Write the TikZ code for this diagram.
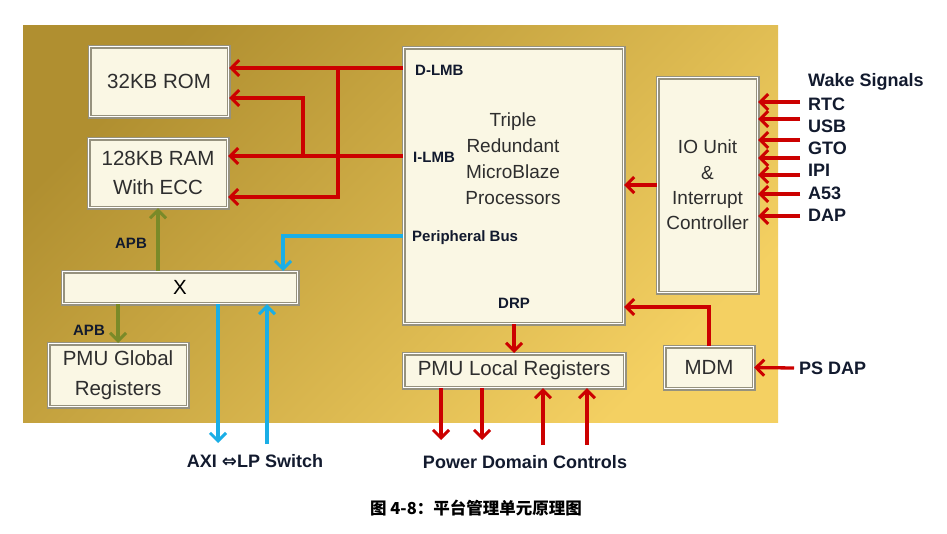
\documentclass[tikz,border=0pt]{standalone}
\usepackage{fontspec}
\setmainfont{Liberation Sans}
\newfontfamily\cjk{Noto Sans CJK SC}
\newfontfamily\dejavu{DejaVu Sans}
\usetikzlibrary{arrows.meta,calc}
\definecolor{goldA}{HTML}{B08F30}
\definecolor{goldB}{HTML}{F4D062}
\definecolor{cream}{HTML}{FAF7E4}
\definecolor{bevel}{HTML}{96927E}
\definecolor{txtgray}{HTML}{2E2E2E}
\definecolor{arrred}{HTML}{CC0000}
\definecolor{arrblue}{HTML}{1AAEE6}
\definecolor{arrgreen}{HTML}{7A8A28}
\definecolor{lblnavy}{HTML}{121A2E}
\tikzset{
  boxst/.style={draw=bevel, line width=1.1pt, double=white, double distance=1.8pt,
    fill=cream, inner sep=0pt, text=txtgray, font=\fontsize{20.5}{29}\selectfont,
    align=center, anchor=north west},
  smalllbl/.style={font=\fontsize{15}{18}\selectfont\bfseries, text=lblnavy, inner sep=0pt},
  biglbl/.style={font=\fontsize{18}{22}\selectfont\bfseries, text=lblnavy, inner sep=0pt},
  tipst/.style={-{Straight Barb[length=8pt,width=16pt,line width=3pt]}},
  redarr/.style={draw=arrred, line width=3.3pt, tipst},
  bluearr/.style={draw=arrblue, line width=3.3pt, tipst},
  greenarr/.style={draw=arrgreen, line width=3.3pt, tipst},
}
\begin{document}
\begin{tikzpicture}[x=1pt,y=-1pt]
\useasboundingbox (0,0) rectangle (947,534);
\fill[white] (0,0) rectangle (947,534);
% gold panel
\shade[top color=goldA, bottom color=goldB, shading angle=45] (23,26) rectangle (778,422);

% boxes
\node[boxst, minimum width=139pt, minimum height=70pt] (rom) at (89,46) {32KB ROM};
\node[boxst, minimum width=139pt, minimum height=69pt] (ram) at (88,138) {128KB RAM\\With ECC};
\node[boxst, minimum width=220pt, minimum height=276pt] (mb) at (403,47) {};
\node[font=\fontsize{19}{26}\selectfont, text=txtgray, align=center, inner sep=0pt] (mbt) at (513,159) {Triple\\Redundant\\MicroBlaze\\Processors};
\node[boxst, minimum width=100pt, minimum height=215pt, font=\fontsize{19}{25.3}\selectfont] (io) at (657,77) {IO Unit\\\&\\Interrupt\\Controller};
\node[boxst, minimum width=235pt, minimum height=32pt, text=black] (xbar) at (62,271) {X};
\node[boxst, minimum width=139pt, minimum height=63pt, font=\fontsize{20.5}{30}\selectfont] (pmug) at (48,343) {PMU Global\\Registers};
\node[boxst, minimum width=221pt, minimum height=34pt] (pmul) at (403,353) {PMU Local Registers};
\node[boxst, minimum width=89pt, minimum height=42pt] (mdm) at (664,346) {MDM};

% small labels
\node[smalllbl, anchor=west] (dlmb) at (415,70) {D-LMB};
\node[smalllbl, anchor=west] (ilmb) at (413,157) {I-LMB};
\node[smalllbl, anchor=west] (pbus) at (412,238) {Peripheral Bus};
\node[smalllbl] (drp) at (514,303) {DRP};
\node[smalllbl] (apb1) at (131,243) {APB};
\node[smalllbl] (apb2) at (89,330) {APB};

% wake signals
\node[biglbl, anchor=west] (wake) at (808,82) {Wake Signals};
\node[biglbl, anchor=west] (rtc) at (808,104) {RTC};
\node[biglbl, anchor=west] (usb) at (808,126) {USB};
\node[biglbl, anchor=west] (gto) at (808,148) {GTO};
\node[biglbl, anchor=west] (ipi) at (808,170) {IPI};
\node[biglbl, anchor=west] (a53) at (808,193) {A53};
\node[biglbl, anchor=west] (dap) at (808,215) {DAP};
\node[biglbl, anchor=west, inner sep=5pt] (psdap) at (794,368) {PS DAP};
\node[biglbl] (axi) at (255,461) {AXI {\dejavu\bfseries ⇔}LP Switch};
\node[biglbl] (pdc) at (525,462) {Power Domain Controls};
\node[font=\fontsize{16.5}{20}\cjk\bfseries, text=black, inner sep=0pt] (cap) at (476,508) {图 4-8：平台管理单元原理图};

% LMB connectors
\coordinate (dl) at (338,68);
\coordinate (dr) at (338,197);
\coordinate (il) at (303,156);
\coordinate (ir) at (303,98);
\draw[redarr] (mb.west|-dl) -- (rom.east|-dl);
\draw[redarr] (dl) -- (dr) -- (ram.east|-dr);
\draw[redarr] (mb.west|-il) -- (ram.east|-il);
\draw[redarr] (il) -- (ir) -- (rom.east|-ir);

% peripheral bus
\coordinate (pb) at (283,236);
\draw[bluearr] (mb.west|-pb) -- (pb) -- (pb|-xbar.north);

% APB
\draw[greenarr] (ram.south|-xbar.north) -- (ram.south);
\draw[greenarr] (pmug.north|-xbar.south) -- (pmug.north);

% AXI LP switch
\coordinate (axd) at (218,443);
\coordinate (axu) at (267,444);
\draw[bluearr] (xbar.south-|axd) -- (axd);
\draw[bluearr] (axu) -- (axu|-xbar.south);

% IO to MB
\draw[redarr] (io.west) -- (io.west-|mb.east);

% wake arrows
\foreach \yy [count=\i] in {102,119,140,158,175,194,216} {
  \coordinate (w\i) at (800,\yy);
  \draw[redarr] (w\i) -- (w\i-|io.east);
}

% MDM
\coordinate (md) at (708,307);
\draw[redarr] (mdm.north) -- (mdm.north|-md) -- (mb.east|-md);
\draw[redarr] (psdap.west) -- (mdm.east);

% DRP
\draw[redarr] (mb.south-|pmul.north) -- (pmul.north);

% power domain controls
\coordinate (pd1) at (441,440);
\coordinate (pd2) at (482,440);
\coordinate (pu1) at (543,445);
\coordinate (pu2) at (587,445);
\draw[redarr] (pmul.south-|pd1) -- (pd1);
\draw[redarr] (pmul.south-|pd2) -- (pd2);
\draw[redarr] (pu1) -- (pu1|-pmul.south);
\draw[redarr] (pu2) -- (pu2|-pmul.south);
\end{tikzpicture}
\end{document}
